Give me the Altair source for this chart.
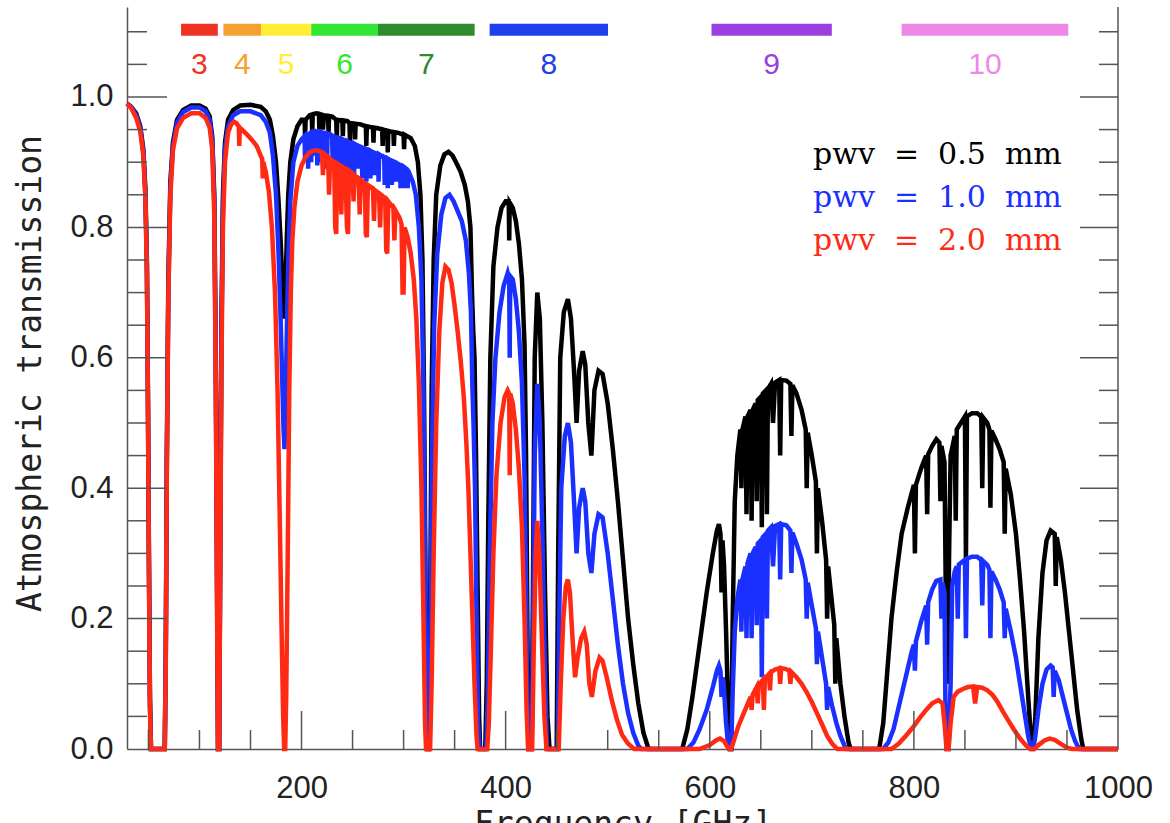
import altair as alt
import pandas as pd

# ---------------- data ----------------
pwv05 = [
    (29, 0.99), (33, 0.985), (38, 0.975), (42, 0.955), (45, 0.92), (47, 0.86), (48.5, 0.75),
    (49.5, 0.55), (50.5, 0.3), (51.5, 0.08), (52.5, 0.0), (66, 0.0), (67, 0.15), (68, 0.45),
    (69.5, 0.72), (71.5, 0.87), (74, 0.93), (78, 0.965), (84, 0.98), (92, 0.987), (100, 0.987),
    (106, 0.982), (110, 0.97), (112.5, 0.94), (114.5, 0.85), (116, 0.6), (117.3, 0.25),
    (118.2, 0.0), (119.3, 0.0), (120.3, 0.3), (121.5, 0.65), (123, 0.85), (125, 0.93),
    (128, 0.965), (133, 0.98), (140, 0.987), (150, 0.988), (160, 0.985), (165, 0.978),
    (169, 0.965), (172, 0.94), (175, 0.9), (177.5, 0.84), (179.5, 0.78), (181.2, 0.72),
    (182.4, 0.68), (183.3, 0.66), (184.3, 0.7), (185.5, 0.78), (187, 0.85), (189, 0.9),
    (192, 0.935), (196, 0.955), (200, 0.965), (203, 0.965), (203.5, 0.94), (204, 0.965),
    (208, 0.972), (210, 0.973), (210.5, 0.945), (211, 0.973), (214, 0.975), (217, 0.974),
    (217.5, 0.95), (218, 0.974), (220, 0.973), (221, 0.95), (222, 0.972), (226, 0.971),
    (226.5, 0.945), (227, 0.971), (230, 0.97), (234, 0.965), (234.5, 0.935), (235, 0.965),
    (240, 0.964), (240.5, 0.94), (241, 0.964), (245, 0.963), (247, 0.96), (247.5, 0.93),
    (248, 0.96), (252, 0.959), (252.5, 0.935), (253, 0.959), (258, 0.958), (263, 0.955),
    (263.5, 0.925), (264, 0.955), (270, 0.953), (270.5, 0.93), (271, 0.953), (275, 0.952),
    (279, 0.95), (279.5, 0.925), (280, 0.95), (284, 0.948), (284.5, 0.915), (285, 0.948),
    (290, 0.946), (290.5, 0.925), (291, 0.946), (295, 0.945), (300, 0.942), (300.5, 0.92),
    (301, 0.942), (307, 0.937), (311, 0.925), (314, 0.9), (316.5, 0.85), (318.5, 0.75),
    (320, 0.55), (321.3, 0.3), (322.3, 0.05), (323.5, 0.0), (324.8, 0.0), (326, 0.2),
    (327.5, 0.55), (329.5, 0.75), (332, 0.85), (336, 0.895), (340, 0.912), (344, 0.916),
    (348, 0.91), (352, 0.898), (356, 0.885), (360, 0.865), (363, 0.84), (365.5, 0.8),
    (367, 0.7), (368.3, 0.64), (369.5, 0.6), (371, 0.45), (372.5, 0.25), (374, 0.05),
    (375, 0.0), (380, 0.0), (381.5, 0.1), (383, 0.35), (385, 0.6), (388, 0.74), (392, 0.8),
    (396, 0.83), (400, 0.84), (403, 0.84), (403.5, 0.78), (404, 0.838), (407, 0.83),
    (410, 0.81), (413, 0.775), (416, 0.72), (418.5, 0.62), (420, 0.45), (421.5, 0.15),
    (422.5, 0.0), (425.5, 0.0), (427, 0.3), (428.5, 0.6), (431, 0.7), (433.5, 0.66),
    (436, 0.5), (438.5, 0.25), (441, 0.05), (443, 0.0), (450, 0.0), (451.5, 0.3),
    (453.5, 0.6), (457, 0.67), (461, 0.69), (464, 0.66), (467, 0.58), (469.5, 0.5),
    (472, 0.58), (475.5, 0.61), (478, 0.59), (481, 0.5), (484, 0.45), (487, 0.55),
    (491, 0.58), (495, 0.575), (500, 0.53), (505, 0.46), (510, 0.38), (515, 0.29),
    (520, 0.2), (525, 0.13), (530, 0.07), (535, 0.025), (540, 0.0), (573, 0.0), (578, 0.03),
    (583, 0.08), (590, 0.16), (597, 0.24), (603, 0.3), (607, 0.335), (609, 0.345),
    (610.5, 0.33), (611.5, 0.24), (612.5, 0.32), (614, 0.28), (616, 0.18), (618, 0.06),
    (619.5, 0.0), (621, 0.0), (622.5, 0.2), (624.5, 0.38), (627, 0.45), (630, 0.49),
    (631, 0.40), (632, 0.49), (635, 0.51), (636, 0.36), (637, 0.51), (640, 0.52), (641, 0.35),
    (642, 0.52), (645, 0.53), (646, 0.38), (647, 0.535), (650, 0.54), (651, 0.34),
    (652, 0.545), (655, 0.55), (656, 0.36), (657, 0.552), (660, 0.56), (662, 0.5),
    (664, 0.562), (668, 0.566), (669, 0.45), (670, 0.566), (675, 0.565), (679, 0.56),
    (680, 0.48), (681, 0.558), (685, 0.545), (690, 0.52), (694, 0.49), (695, 0.40),
    (696, 0.485), (700, 0.45), (704, 0.41), (705, 0.3), (706, 0.4), (710, 0.35), (714, 0.29),
    (715, 0.2), (716, 0.28), (720, 0.22), (722, 0.19), (723, 0.1), (724, 0.17), (728, 0.1),
    (732, 0.05), (736, 0.01), (738, 0.0), (766, 0.0), (770, 0.04), (774, 0.12), (778, 0.2),
    (783, 0.27), (788, 0.33), (794, 0.37), (800, 0.405), (801, 0.3), (802, 0.405),
    (807, 0.43), (812, 0.45), (813, 0.36), (814, 0.452), (818, 0.465), (822, 0.475),
    (825, 0.47), (826, 0.38), (827, 0.465), (830, 0.44), (831.5, 0.2), (833, 0.1),
    (834.5, 0.3), (836, 0.45), (840, 0.48), (841, 0.35), (842, 0.49), (846, 0.5), (850, 0.51),
    (851, 0.29), (852, 0.51), (857, 0.515), (862, 0.515), (866, 0.51), (867, 0.4),
    (868, 0.508), (872, 0.5), (874, 0.49), (875, 0.37), (876, 0.488), (880, 0.475),
    (884, 0.46), (888, 0.44), (889, 0.33), (890, 0.43), (895, 0.39), (900, 0.33),
    (904, 0.26), (908, 0.18), (912, 0.08), (915, 0.01), (917, 0.0), (919, 0.05), (922, 0.17),
    (926, 0.27), (930, 0.32), (934, 0.335), (938, 0.33), (939, 0.25), (940, 0.325),
    (944, 0.29), (948, 0.24), (952, 0.18), (956, 0.12), (960, 0.06), (964, 0.015),
    (966, 0.0), (1000, 0.0),
]

pwv10 = [
    (29, 0.99), (33, 0.985), (38, 0.972), (42, 0.952), (45, 0.915), (47, 0.85), (48.5, 0.74),
    (49.5, 0.54), (50.5, 0.28), (51.5, 0.07), (52.5, 0.0), (66, 0.0), (67, 0.14), (68, 0.43),
    (69.5, 0.7), (71.5, 0.86), (74, 0.925), (78, 0.96), (84, 0.977), (92, 0.984), (100, 0.984),
    (106, 0.978), (110, 0.965), (112.5, 0.935), (114.5, 0.84), (116, 0.58), (117.3, 0.23),
    (118.2, 0.0), (119.3, 0.0), (120.3, 0.28), (121.5, 0.62), (123, 0.83), (125, 0.92),
    (128, 0.955), (133, 0.972), (140, 0.978), (150, 0.978), (160, 0.972), (165, 0.962),
    (169, 0.945), (172, 0.91), (175, 0.85), (177.5, 0.76), (179.5, 0.66), (181.2, 0.56),
    (182.4, 0.49), (183.3, 0.46), (184.3, 0.52), (185.5, 0.63), (187, 0.75), (189, 0.84),
    (192, 0.9), (196, 0.925), (200, 0.935), (203, 0.94), (203.5, 0.9), (204, 0.94),
    (206, 0.942), (206.5, 0.89), (207, 0.943), (209, 0.945), (209.5, 0.9), (210, 0.946),
    (212, 0.947), (212.5, 0.91), (213, 0.947), (215, 0.947), (215.5, 0.895), (216, 0.947),
    (218, 0.947), (218.5, 0.9), (219, 0.946), (221, 0.945), (221.5, 0.9), (222, 0.945),
    (224.5, 0.944), (225, 0.89), (225.5, 0.944), (228, 0.943), (230, 0.94), (230.5, 0.9),
    (231, 0.94), (234, 0.938), (234.5, 0.88), (235, 0.938), (237.5, 0.937), (238, 0.885),
    (238.5, 0.936), (240, 0.935), (241, 0.89), (242, 0.933), (244, 0.932), (244.5, 0.88),
    (245, 0.932), (247, 0.93), (247.5, 0.87), (248, 0.93), (251, 0.928), (251.5, 0.88),
    (252, 0.928), (254, 0.926), (255, 0.89), (256, 0.925), (259, 0.923), (259.5, 0.875),
    (260, 0.922), (263, 0.92), (263.5, 0.87), (264, 0.92), (267, 0.918), (267.5, 0.875),
    (268, 0.917), (270, 0.915), (271, 0.88), (272, 0.914), (275, 0.912), (275.5, 0.87),
    (276, 0.912), (278, 0.91), (281, 0.908), (281.5, 0.865), (282, 0.907), (284, 0.905),
    (284.5, 0.86), (285, 0.905), (288, 0.902), (288.5, 0.865), (289, 0.902), (292, 0.9),
    (293, 0.87), (294, 0.898), (296.5, 0.896), (297, 0.86), (297.5, 0.895), (300, 0.893),
    (300.5, 0.86), (301, 0.892), (303.5, 0.889), (304, 0.86), (304.5, 0.888), (305, 0.885),
    (309, 0.87), (312, 0.85), (315, 0.8), (317.5, 0.72), (319.5, 0.55), (321, 0.3),
    (322.2, 0.08), (323.3, 0.0), (325, 0.0), (326.2, 0.15), (327.8, 0.45), (330, 0.65),
    (333, 0.76), (337, 0.82), (341, 0.845), (345, 0.85), (349, 0.84), (353, 0.825),
    (357, 0.81), (361, 0.78), (364, 0.73), (366, 0.67), (367.5, 0.55), (368.5, 0.5),
    (370, 0.4), (371.5, 0.2), (373, 0.04), (374.5, 0.0), (381, 0.0), (382.5, 0.08),
    (384.5, 0.3), (387, 0.5), (390, 0.6), (394, 0.67), (398, 0.71), (402, 0.73),
    (403.5, 0.72), (404, 0.6), (404.5, 0.725), (407, 0.72), (410, 0.69), (413, 0.64),
    (416, 0.56), (418.5, 0.42), (420, 0.25), (421.5, 0.06), (422.5, 0.0), (425.5, 0.0),
    (427, 0.2), (428.5, 0.45), (431, 0.56), (433.5, 0.5), (436, 0.33), (438.5, 0.12),
    (440.5, 0.0), (451, 0.0), (452.5, 0.2), (454.5, 0.4), (458, 0.48), (461, 0.5),
    (464, 0.47), (467, 0.38), (469.5, 0.3), (472, 0.37), (475.5, 0.4), (478, 0.38),
    (481, 0.3), (484, 0.27), (487, 0.33), (491, 0.36), (495, 0.355), (500, 0.3), (505, 0.23),
    (510, 0.16), (515, 0.1), (520, 0.055), (525, 0.025), (530, 0.005), (533, 0.0),
    (578, 0.0), (584, 0.01), (590, 0.03), (597, 0.06), (603, 0.095), (607, 0.12),
    (609, 0.128), (610.5, 0.12), (611.5, 0.08), (612.5, 0.11), (614, 0.09), (616, 0.04),
    (618, 0.005), (619.5, 0.0), (621, 0.0), (622.5, 0.09), (624.5, 0.18), (627, 0.23),
    (630, 0.26), (631, 0.18), (632, 0.26), (635, 0.28), (636, 0.17), (637, 0.285), (640, 0.3),
    (641, 0.17), (642, 0.3), (645, 0.31), (646, 0.19), (647, 0.315), (650, 0.32), (651, 0.11),
    (652, 0.325), (655, 0.33), (656, 0.2), (657, 0.335), (660, 0.34), (662, 0.28),
    (664, 0.342), (668, 0.345), (669, 0.26), (670, 0.345), (675, 0.343), (679, 0.335),
    (680, 0.27), (681, 0.332), (685, 0.315), (690, 0.29), (694, 0.26), (695, 0.2),
    (696, 0.255), (700, 0.22), (704, 0.185), (705, 0.13), (706, 0.18), (710, 0.14),
    (714, 0.1), (715, 0.06), (716, 0.095), (720, 0.065), (724, 0.04), (728, 0.02),
    (732, 0.005), (734, 0.0), (770, 0.0), (775, 0.01), (780, 0.03), (786, 0.07), (792, 0.11),
    (798, 0.15), (800, 0.16), (801, 0.12), (802, 0.165), (807, 0.195), (812, 0.22),
    (813, 0.16), (814, 0.225), (818, 0.245), (822, 0.258), (826, 0.26), (827, 0.2),
    (828, 0.255), (830, 0.24), (831, 0.05), (832, 0.0), (834, 0.0), (836, 0.1),
    (837.5, 0.25), (840, 0.272), (842, 0.28), (843, 0.2), (844, 0.283), (848, 0.288),
    (850, 0.29), (851, 0.17), (852, 0.292), (857, 0.295), (862, 0.295), (866, 0.29),
    (867, 0.22), (868, 0.288), (872, 0.282), (874, 0.275), (875, 0.17), (876, 0.272),
    (880, 0.26), (884, 0.245), (888, 0.225), (889, 0.17), (890, 0.215), (895, 0.18),
    (900, 0.14), (904, 0.1), (908, 0.06), (912, 0.02), (915, 0.0), (917, 0.0), (919, 0.02),
    (922, 0.06), (926, 0.1), (930, 0.122), (934, 0.128), (936, 0.125), (937, 0.08),
    (938, 0.12), (942, 0.105), (946, 0.08), (950, 0.055), (954, 0.03), (958, 0.012),
    (962, 0.0), (1000, 0.0),
]

pwv20 = [
    (29, 0.99), (33, 0.983), (38, 0.968), (42, 0.947), (45, 0.91), (47, 0.845), (48.5, 0.73),
    (49.5, 0.53), (50.5, 0.27), (51.5, 0.06), (52.5, 0.0), (66, 0.0), (67, 0.13), (68, 0.42),
    (69.5, 0.69), (71.5, 0.85), (74, 0.918), (78, 0.952), (84, 0.968), (92, 0.975),
    (100, 0.975), (106, 0.968), (110, 0.953), (112.5, 0.92), (114.5, 0.82), (116, 0.56),
    (117.3, 0.2), (118.2, 0.0), (119.3, 0.0), (120.3, 0.26), (121.5, 0.58), (123, 0.8),
    (125, 0.9), (128, 0.945), (131, 0.958), (134, 0.962), (136, 0.96), (138.5, 0.955),
    (139, 0.925), (139.5, 0.953), (143, 0.948), (148, 0.94), (152, 0.933), (156, 0.925),
    (160, 0.91), (161.5, 0.905), (162, 0.875), (162.5, 0.9), (165, 0.885), (168, 0.855),
    (171, 0.8), (174, 0.7), (176.5, 0.55), (178.5, 0.37), (180.5, 0.18), (182, 0.05),
    (183, 0.0), (184, 0.0), (185, 0.08), (186.5, 0.3), (188, 0.55), (189.5, 0.7), (191, 0.78),
    (193, 0.83), (196, 0.87), (200, 0.895), (204, 0.908), (208, 0.915), (212, 0.918),
    (216, 0.918), (220, 0.915), (221, 0.88), (222, 0.913), (226, 0.908), (227, 0.85),
    (228, 0.905), (232, 0.9), (233, 0.8), (234, 0.79), (235, 0.898), (238, 0.895),
    (239, 0.82), (240, 0.893), (243, 0.89), (244.5, 0.8), (245.5, 0.79), (246.5, 0.887),
    (250, 0.883), (251, 0.84), (252, 0.88), (256, 0.875), (257, 0.82), (258, 0.873),
    (262, 0.868), (263, 0.79), (264, 0.785), (265, 0.865), (270, 0.86), (271, 0.81),
    (272, 0.857), (276, 0.852), (277, 0.8), (278, 0.85), (282, 0.845), (283, 0.765),
    (284, 0.76), (285, 0.84), (290, 0.83), (291, 0.78), (292, 0.826), (296, 0.815),
    (298, 0.805), (299, 0.7), (300, 0.7), (301, 0.8), (304, 0.785), (307, 0.76), (310, 0.72),
    (312.5, 0.66), (315, 0.56), (317.5, 0.4), (319.5, 0.2), (321, 0.04), (322, 0.0),
    (326, 0.0), (327.5, 0.1), (329.5, 0.3), (332, 0.5), (335, 0.64), (338, 0.715),
    (341, 0.74), (344, 0.735), (347, 0.715), (350, 0.68), (353, 0.64), (356, 0.595),
    (359, 0.54), (361.5, 0.47), (363.5, 0.4), (365.5, 0.3), (367.5, 0.2), (369.5, 0.1),
    (371.5, 0.02), (372.5, 0.0), (382, 0.0), (383.5, 0.04), (385.5, 0.15), (388, 0.3),
    (391, 0.42), (395, 0.5), (399, 0.54), (402, 0.55), (403.5, 0.545), (404, 0.42),
    (404.5, 0.545), (407, 0.53), (410, 0.49), (413, 0.43), (416, 0.34), (418.5, 0.2),
    (420.5, 0.06), (422, 0.0), (426, 0.0), (427.5, 0.15), (429.5, 0.3), (431, 0.35),
    (433, 0.3), (435.5, 0.17), (438, 0.05), (440, 0.0), (452, 0.0), (454, 0.1),
    (456.5, 0.2), (459, 0.25), (461, 0.26), (463, 0.24), (465.5, 0.17), (468, 0.11),
    (470.5, 0.14), (474, 0.17), (477, 0.18), (479.5, 0.16), (482, 0.1), (484.5, 0.08),
    (488, 0.12), (492, 0.14), (495, 0.135), (499, 0.11), (504, 0.075), (509, 0.045),
    (514, 0.022), (520, 0.008), (526, 0.0), (590, 0.0), (600, 0.006), (606, 0.013),
    (610, 0.016), (614, 0.012), (617, 0.004), (619, 0.0), (621, 0.0), (624, 0.015),
    (628, 0.035), (632, 0.05), (636, 0.065), (640, 0.08), (641, 0.06), (642, 0.083),
    (646, 0.095), (647, 0.07), (648, 0.098), (652, 0.106), (653, 0.06), (654, 0.108),
    (658, 0.115), (659, 0.09), (660, 0.118), (664, 0.122), (668, 0.124), (669, 0.1),
    (670, 0.124), (674, 0.123), (678, 0.12), (679, 0.1), (680, 0.118), (685, 0.11),
    (690, 0.1), (695, 0.087), (700, 0.072), (705, 0.055), (710, 0.038), (715, 0.02),
    (720, 0.008), (725, 0.0), (778, 0.0), (785, 0.008), (792, 0.02), (800, 0.035),
    (806, 0.048), (812, 0.06), (818, 0.07), (824, 0.075), (828, 0.07), (830, 0.04),
    (832, 0.0), (834, 0.0), (836, 0.04), (839, 0.08), (843, 0.088), (848, 0.092),
    (853, 0.095), (858, 0.096), (860, 0.07), (862, 0.095), (867, 0.094), (872, 0.09),
    (877, 0.083), (882, 0.072), (887, 0.058), (892, 0.045), (898, 0.03), (904, 0.016),
    (910, 0.005), (914, 0.0), (918, 0.0), (922, 0.006), (928, 0.013), (933, 0.016),
    (938, 0.014), (944, 0.008), (950, 0.002), (955, 0.0), (1000, 0.0),
]

band_names = ["3", "4", "5", "6", "7", "8", "9", "10"]
band_lo = [82, 123.5, 160.5, 209.5, 274.8, 384.3, 601.7, 788]
band_hi = [118, 160.5, 209.5, 274.8, 369.6, 500.3, 719.6, 951.3]
band_colors = ["#ee3322", "#f5a030", "#ffee33", "#33e633", "#2e8b2e", "#1f3fe8", "#9b40e0", "#ee88e6"]

legend_labels = ["pwv = 0.5 mm", "pwv = 1.0 mm", "pwv = 2.0 mm"]
series_colors = ["#000000", "#1a30ff", "#ff2a14"]

x_major = [200, 400, 600, 800]
x_minor = [50, 100, 150, 250, 300, 350, 450, 500, 550, 650, 700, 750, 850, 900, 950]
x_labels = [200, 400, 600, 800, 1000]
y_major = [0.2, 0.4, 0.6, 0.8, 1.0]
y_minor = [0.05, 0.1, 0.15, 0.25, 0.3, 0.35, 0.45, 0.5, 0.55, 0.65, 0.7, 0.75,
           0.85, 0.9, 0.95, 1.05, 1.1]
y_labels = [0.0, 0.2, 0.4, 0.6, 0.8, 1.0]

# ---------------- chart ----------------
W, H = 991, 742
AX = "#555555"
xs = alt.Scale(domain=[29, 1000], nice=False, zero=False)
ys = alt.Scale(domain=[0, 1.138], nice=False, zero=False)

xaxis = alt.Axis(values=x_labels, ticks=False, grid=False, domainColor=AX, domainWidth=1.5,
                 labelFont="Liberation Sans", labelFontSize=31, labelColor="#222222",
                 labelPadding=24, labelFlush=False, format="d",
                 title="Frequency [GHz]", titleFont="DejaVu Sans Mono", titleFontSize=33,
                 titleFontWeight="normal", titleColor="#222222", titleY=59,
                 titleBaseline="top")
yaxis = alt.Axis(values=y_labels, format=".1f", ticks=False, grid=False, domainColor=AX,
                 domainWidth=1.5, labelFont="Liberation Sans", labelFontSize=31,
                 labelColor="#222222", labelPadding=14, labelFlush=False,
                 title="Atmospheric transmission", titleFont="DejaVu Sans Mono",
                 titleFontSize=33, titleFontWeight="normal", titleColor="#222222",
                 titleX=-97, titleY=366, titleAngle=270, titleAlign="center",
                 titleBaseline="middle")

XE = dict(scale=xs, axis=xaxis)
YE = dict(scale=ys, axis=yaxis)

layers = []
for series, col in zip([pwv05, pwv10, pwv20], series_colors):
    df = pd.DataFrame(series, columns=["freq", "trans"])
    layers.append(
        alt.Chart(df).mark_line(color=col, strokeWidth=4.5).encode(
            x=alt.X("freq:Q", **XE),
            y=alt.Y("trans:Q", **YE),
        )
    )

# inward ticks
def xticks(vals, length):
    return alt.Chart(pd.DataFrame({"freq": vals})).mark_rule(color=AX, strokeWidth=1.5).encode(
        x=alt.X("freq:Q", **XE), y=alt.value(H), y2=alt.value(H - length))

def yticks(vals, x0, x1):
    return alt.Chart(pd.DataFrame({"trans": vals})).mark_rule(color=AX, strokeWidth=1.5).encode(
        y=alt.Y("trans:Q", **YE), x=alt.value(x0), x2=alt.value(x1))

ticks = [
    xticks(x_major, 38), xticks(x_minor, 19),
    yticks(y_major, 0, 40), yticks(y_minor, 0, 20),
    yticks(y_major, W, W - 38), yticks(y_minor, W, W - 19),
]
right_line = alt.Chart(pd.DataFrame({"a": [0]})).mark_rule(color=AX, strokeWidth=1.5).encode(
    x=alt.value(W), y=alt.value(0), y2=alt.value(H))

bands = pd.DataFrame({"name": band_names, "freq": band_lo, "hi": band_hi})
bcolor = alt.Color("name:N", scale=alt.Scale(domain=band_names, range=band_colors), legend=None)
band_bars = alt.Chart(bands).mark_rule(strokeWidth=12, strokeCap="butt").encode(
    x=alt.X("freq:Q", **XE), x2="hi:Q", y=alt.datum(1.103), color=bcolor)
band_text = alt.Chart(bands).transform_calculate(mid="(datum.freq + datum.hi) / 2").mark_text(
    font="Liberation Sans", fontSize=30, baseline="middle", align="center").encode(
    x=alt.X("mid:Q", **XE), y=alt.datum(1.049), text="name:N", color=bcolor)

legend_layers = []
for i, (lab, col) in enumerate(zip(legend_labels, series_colors)):
    txt = lab.replace(" ", "\u00a0\u00a0")
    legend_layers.append(
        alt.Chart(pd.DataFrame({"t": [txt]})).mark_text(
            font="DejaVu Serif", fontSize=30, align="left", baseline="middle", color=col).encode(
            text="t:N", x=alt.value(686), y=alt.value(148 + 43 * i))
    )

chart = alt.layer(*layers, *ticks, right_line, band_bars, band_text, *legend_layers).properties(
    width=W, height=H,
    padding={"left": 127, "top": 7, "right": 52, "bottom": 74},
    autosize=alt.AutoSizeParams(type="none"),
    background="white",
).configure_view(stroke=None)

chart.save("out.html", embed_options={"renderer": "svg", "actions": False})
